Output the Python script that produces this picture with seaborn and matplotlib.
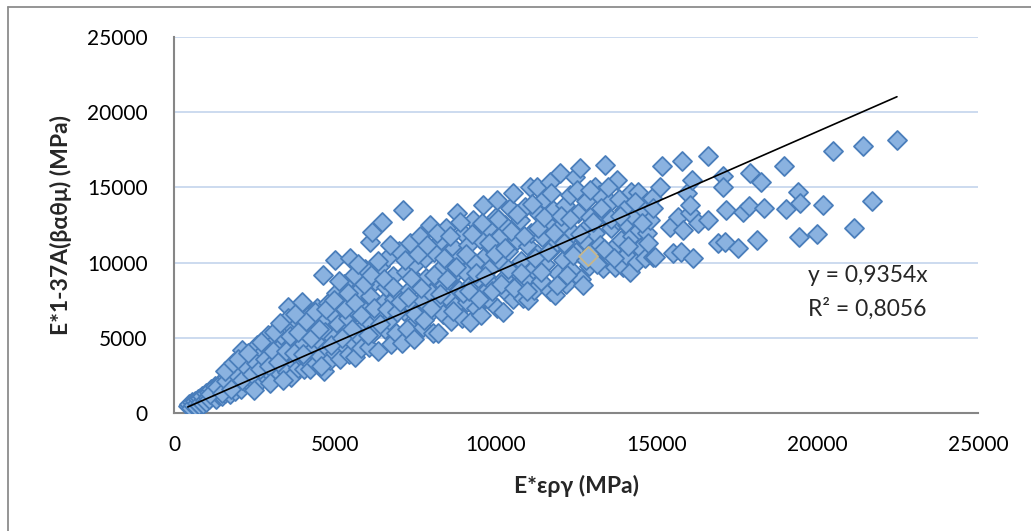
import matplotlib
matplotlib.use("Agg")
import matplotlib.pyplot as plt
import seaborn as sns
import numpy as np
import pandas as pd
from matplotlib.lines import Line2D

# ---------------- data (MPa) ----------------
E_erg = [
    430, 480, 520, 560, 600, 640, 680, 700, 740, 780, 820, 850, 880, 900, 950, 980, 1000,
    1050, 1080, 1100, 1150, 1200, 1250, 1280, 1300, 1350, 1400, 1420, 1450, 1500, 1520, 1560, 1600, 1650, 1700, 1720, 1750, 1800, 1850, 1880, 1900, 1950, 2000,
    2050, 2080, 2110, 2150, 2200, 2250, 2300, 2350, 2400, 2450, 2500, 2550, 2580, 2600, 2650, 2700, 2750, 2800, 2850, 2900, 2920, 2950, 3000,
    3050, 3100, 3150, 3200, 3250, 3300, 3350, 3390, 3400, 3450, 3500, 3540, 3550, 3580, 3600, 3650, 3700, 3750, 3800, 3850, 3900, 3950, 3980, 4000,
    4050, 4100, 4150, 4200, 4230, 4300, 4350, 4400, 4450, 4500, 4550, 4600, 4630, 4650, 4700, 4750, 4800, 4850, 4900, 4950, 5000, 5010,
    5050, 5100, 5150, 5200, 5250, 5300, 5350, 5400, 5450, 5470, 5500, 5550, 5600, 5630, 5650, 5700, 5750, 5800, 5850, 5900, 5950, 6000,
    6050, 6090, 6100, 6160, 6200, 6250, 6300, 6350, 6400, 6470, 6500, 6550, 6600, 6650, 6700, 6750, 6800, 6850, 6900, 6950, 7000,
    7090, 7120, 7150, 7200, 7250, 7300, 7350, 7400, 7450, 7500, 7550, 7600, 7650, 7700, 7750, 7800, 7850, 7900, 7960, 8000,
    8050, 8100, 8150, 8210, 8250, 8300, 8350, 8400, 8450, 8500, 8550, 8600, 8650, 8700, 8750, 8800, 8850, 8900, 8950, 9000,
    9050, 9100, 9150, 9200, 9250, 9300, 9350, 9400, 9450, 9500, 9550, 9610, 9650, 9700, 9750, 9800, 9850, 9900, 9950, 10000,
    10040, 10050, 10100, 10150, 10230, 10250, 10300, 10350, 10400, 10450, 10540, 10550, 10600, 10650, 10700, 10750, 10800, 10850, 10900, 10950, 11000,
    11010, 11070, 11100, 11150, 11200, 11290, 11300, 11350, 11400, 11450, 11500, 11550, 11600, 11690, 11700, 11750, 11800, 11850, 11900, 11950, 12000,
    12050, 12100, 12150, 12200, 12250, 12300, 12350, 12400, 12470, 12500, 12550, 12620, 12650, 12720, 12750, 12800, 12850, 12900, 12950, 13000, 13090,
    13100, 13200, 13250, 13340, 13400, 13450, 13500, 13550, 13600, 13650, 13700, 13770, 13800, 13850, 13900, 13960, 14000,
    14050, 14100, 14180, 14200, 14250, 14300, 14400, 14430, 14450, 14500, 14600, 14650, 14700, 14800, 14850, 14900,
    14960, 15110, 15170, 15420, 15520, 15670, 15760, 15800, 15830, 15950, 16040, 16040, 16110, 16140, 16290, 16600, 16600,
    16920, 17070, 17070, 17130, 17160, 17540, 17690, 17880, 17910, 18130, 18250, 18350, 18970, 19030, 19400, 19430, 19470,
    19990, 20180, 20490, 21140, 21420, 21700, 22480,
    # additional points filling the dense cloud
    1120, 1330, 1480, 1630, 1780, 1930, 2120, 2280, 2420, 2560, 2680, 2820, 2960,
    3080, 3230, 3330, 3470, 3620, 3720, 3870, 4020, 4120, 4270, 4380, 4520, 4580, 4720, 4880, 4980,
    5120, 5220, 5320, 5420, 5520, 5620, 5720, 5820, 5920, 6020, 6130, 6230, 6330, 6420, 6530, 6620, 6720, 6820, 6920,
    7030, 7180, 7280, 7380, 7480, 7580, 7680, 7780, 7880, 7980, 8080, 8180, 8280, 8380, 8480, 8580, 8680, 8780, 8880, 8980,
    9080, 9180, 9280, 9380, 9480, 9580, 9680, 9780, 9880, 9980, 10080, 10180, 10280, 10380, 10480, 10580, 10680, 10780, 10880, 10980,
    11120, 11220, 11320, 11420, 11520, 11620, 11720, 11820, 11920, 12020, 12120, 12220, 12320, 12420, 12520, 12620, 12820, 12920,
    13020, 13150, 13280, 13380, 13480, 13580, 13680, 13880, 14120, 14350, 14550, 14750, 14900,
    1600, 1850, 2000, 2300, 2700, 3100, 3300, 3750, 2500, 3000, 3400,
]
E_137A = [
    450, 600, 350, 700, 500, 820, 400, 650, 900, 550, 1000, 700, 1150, 600, 850, 1300, 750,
    1050, 1400, 900, 1600, 1150, 1350, 1800, 950, 1500, 1200, 2000, 1700, 1100, 1450, 2200, 1300, 1900, 1550, 2500, 1250, 2100, 1700, 2800, 1450, 2300, 1800,
    3000, 1600, 4190, 2500, 2050, 3400, 2800, 1900, 3700, 2300, 3100, 2000, 4520, 2600, 3500, 2200, 4000, 2900, 2400, 3300, 5190, 2700, 4300,
    2500, 3600, 4800, 2900, 3900, 2600, 4500, 5390, 3200, 5000, 2700, 7050, 6320, 3800, 4400, 2400, 5600, 3300, 4900, 3000, 6000, 3700, 7380, 4600,
    2900, 5300, 3500, 6500, 2900, 4200, 5800, 3300, 7000, 4800, 3800, 6200, 9180, 2800, 5400, 4300, 7300, 3500, 6600, 5000, 4000, 10170,
    8000, 5900, 3600, 7100, 4600, 8600, 5400, 6300, 3900, 10300, 7600, 4800, 9200, 3720, 6700, 5200, 8200, 4300, 7000, 5800, 9600, 6200,
    4400, 11370, 7800, 12030, 5300, 8800, 6600, 4100, 9800, 12700, 7300, 5600, 8400, 10400, 6200, 4600, 9100, 7600, 5300, 8000, 10800,
    4650, 13500, 6800, 9400, 5600, 8200, 11300, 7100, 4900, 9900, 6200, 8700, 11800, 7500, 5700, 10300, 9000, 6500, 12500, 8000,
    5300, 10700, 7200, 5320, 9500, 11500, 6600, 8500, 12300, 7700, 10000, 6100, 9100, 11000, 7100, 13300, 8200, 10400, 6300, 12000,
    9400, 7400, 11200, 6050, 8600, 12800, 10000, 7000, 9000, 11600, 6500, 13830, 8000, 10500, 12300, 7500, 9700, 11000, 8500, 13000,
    14160, 7000, 10200, 11800, 6720, 9000, 12500, 8000, 10800, 13600, 14630, 7600, 9500, 11500, 8600, 12800, 10100, 7650, 13700, 9000, 11100,
    7510, 15030, 12000, 9600, 8200, 15030, 10600, 13200, 8800, 11700, 14200, 9900, 12600, 15360, 8100, 10900, 13500, 7850, 11400, 9300, 15960,
    12500, 10200, 13800, 8600, 11000, 14500, 9500, 12000, 15690, 10700, 13300, 16290, 8900, 8510, 11500, 14100, 12400, 9800, 13000, 10800, 15030,
    12000, 14500, 11200, 9640, 16490, 13000, 10500, 14000, 12300, 11000, 9700, 15490, 12800, 14200, 11500, 9710, 13500,
    10500, 12500, 9380, 14700, 11800, 13000, 10040, 14690, 12200, 11000, 13500, 10300, 12000, 12830, 14300, 10370,
    10370, 15030, 16420, 12370, 10640, 13030, 10700, 16760, 12170, 14630, 13300, 13830, 15490, 10310, 12630, 12830, 17090,
    11300, 15760, 15030, 11370, 13500, 10970, 13360, 13760, 15960, 11500, 15360, 13630, 16420, 13560, 14690, 11700, 13960,
    11900, 13830, 17420, 12300, 17750, 14100, 18150,
    # additional points filling the dense cloud
    1250, 1750, 1350, 2100, 1600, 2600, 2200, 3000, 2600, 3300, 2900, 3600, 3100,
    4100, 3400, 5200, 4100, 5100, 4000, 5400, 3900, 6100, 5000, 6700, 5600, 3100, 6900, 4500, 7500,
    8800, 5000, 6900, 8000, 5600, 7300, 9900, 6500, 8600, 5200, 9200, 7000, 10100, 5900, 8900, 6900, 11200, 8400, 6700,
    7400, 10200, 7700, 9000, 6600, 10600, 8300, 6200, 11200, 7000, 9200, 12000, 7900, 10300, 8900, 11800, 6800, 9700, 12700, 8000,
    10600, 8100, 11900, 9300, 7600, 12600, 9100, 11300, 8100, 10600, 12900, 8600, 11000, 9600, 12100, 8300, 13200, 9300, 11800, 8100,
    13900, 10300, 12300, 9400, 13000, 10700, 14600, 12000, 8500, 13100, 11300, 9200, 12900, 10500, 14800, 11900, 10200, 14800,
    12700, 9900, 13600, 10900, 15000, 12900, 10300, 13100, 11100, 14000, 12600, 11300, 13600,
    2800, 3300, 3600, 4000, 4700, 5400, 6000, 6600, 1500, 2000, 2200,
]
# highlighted (tan-edged) point
hl_x = [12870]
hl_y = [10440]

slope = 0.9354
r2 = 0.8056

df = pd.DataFrame({"x": E_erg, "y": E_137A})

# ---------------- figure ----------------
sns.set_theme(style="white")
plt.rcParams["font.family"] = ["Lato", "DejaVu Sans"]

fig = plt.figure(figsize=(10.31, 5.31), dpi=100)
ax = fig.add_axes([174 / 1031, 1 - 413 / 531, (978 - 174) / 1031, (413 - 37) / 531])

fill_c = "#8AB2E0"
edge_c = "#4A7EBB"

sns.scatterplot(data=df, x="x", y="y", ax=ax, marker="D", s=94,
                color=fill_c, edgecolor=edge_c, linewidth=1.3, zorder=3, legend=False)
sns.scatterplot(x=hl_x, y=hl_y, ax=ax, marker="D", s=94,
                color=fill_c, edgecolor="#C6B78C", linewidth=1.3, zorder=4, legend=False)

# trendline through origin
xmin, xmax = min(E_erg), max(E_erg)
tx = np.array([xmin, xmax])
ax.plot(tx, slope * tx, color="black", lw=1.2, zorder=5)

ax.set_xlim(0, 25000)
ax.set_ylim(0, 25000)
ax.set_xticks(range(0, 25001, 5000))
ax.set_yticks(range(0, 25001, 5000))
ax.tick_params(axis="both", length=0, labelsize=15, colors="black")
ax.tick_params(axis="y", pad=19)
ax.tick_params(axis="x", pad=16)

ax.yaxis.grid(True, color="#C3D4EC", lw=1.2, zorder=0)
ax.xaxis.grid(False)
ax.set_axisbelow(True)

for side in ["top", "right"]:
    ax.spines[side].set_visible(False)
for side in ["left", "bottom"]:
    ax.spines[side].set_color("#868686")
    ax.spines[side].set_linewidth(1.5)

ax.set_xlabel("E*εργ (MPa)", fontsize=16.5, fontweight="bold", labelpad=14)
ax.set_ylabel("E*1-37A(βαθμ) (MPa)", fontsize=16.5, fontweight="bold", labelpad=11)

ax.text(808 / 1031, 1 - 276 / 531, f"y = {str(slope).replace('.', ',')}x",
        transform=fig.transFigure, fontsize=16.5, va="center", ha="left")
ax.text(808 / 1031, 1 - 309 / 531, f"R² = {str(r2).replace('.', ',')}",
        transform=fig.transFigure, fontsize=16.5, va="center", ha="left")

# outer chart frame (left & top visible)
fig.add_artist(Line2D([8 / 1031, 8 / 1031], [0, 1 - 7 / 531], transform=fig.transFigure,
                      color="#8C8C8C", lw=1.3))
fig.add_artist(Line2D([8 / 1031, 1], [1 - 7 / 531, 1 - 7 / 531], transform=fig.transFigure,
                      color="#8C8C8C", lw=1.3))

fig.savefig("out.png", dpi=100)
